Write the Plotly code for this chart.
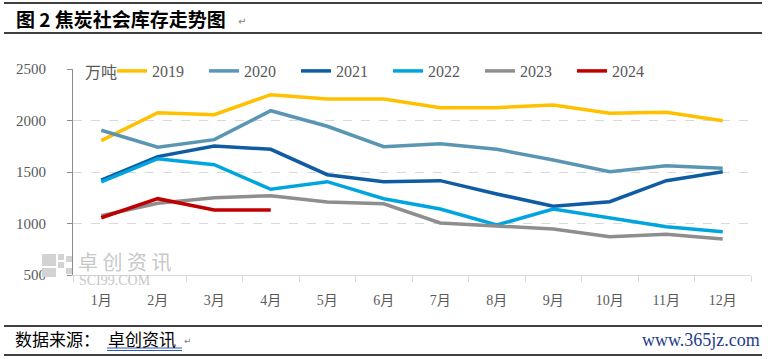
import plotly.graph_objects as go

months = ["1月", "2月", "3月", "4月", "5月", "6月", "7月", "8月", "9月", "10月", "11月", "12月"]
y2019 = [1804, 2076, 2056, 2251, 2209, 2209, 2125, 2125, 2150, 2070, 2080, 1998]
y2020 = [1905, 1740, 1814, 2095, 1944, 1746, 1775, 1720, 1617, 1503, 1561, 1536]
y2021 = [1422, 1649, 1752, 1720, 1474, 1406, 1416, 1287, 1167, 1212, 1416, 1503]
y2022 = [1403, 1629, 1571, 1332, 1406, 1241, 1141, 985, 1141, 1051, 969, 920]
y2023 = [1076, 1196, 1250, 1270, 1209, 1192, 1005, 979, 947, 872, 895, 850]
y2024 = [1056, 1241, 1131, 1131]

series = [
    ("2019", y2019, "#FFC000"),
    ("2020", y2020, "#5A96B4"),
    ("2021", y2021, "#0F5CA3"),
    ("2022", y2022, "#00A5DF"),
    ("2023", y2023, "#8E8E8E"),
    ("2024", y2024, "#C00000"),
]

W, H = 768, 359
L, R, T, B = 73, 17, 69, 84
pw, ph = W - L - R, H - T - B

def px(x):
    return (x - L) / pw

def py(y):
    return (H - B - y) / ph

fig = go.Figure()
for name, vals, col in series:
    fig.add_trace(go.Scatter(
        x=months[:len(vals)], y=vals, name=name, mode="lines",
        line=dict(color=col, width=3.5), hoverinfo="skip"))

cjk = "Liberation Serif, Noto Sans CJK SC"
fig.update_layout(
    width=W, height=H,
    margin=dict(l=L, r=R, t=T, b=B, pad=0, autoexpand=False),
    paper_bgcolor="white", plot_bgcolor="white",
    font=dict(family=cjk, color="#595959", size=14),
    showlegend=True,
    legend=dict(orientation="h", x=px(112), y=py(71), xanchor="left", yanchor="middle",
                font=dict(size=16, color="#595959", family=cjk),
                bgcolor="rgba(0,0,0,0)", entrywidth=47, entrywidthmode="pixels",
                itemwidth=30, tracegroupgap=0),
    xaxis=dict(type="category", range=[-0.5, 11.5], showgrid=False,
               showline=True, linecolor="#D9D9D9", linewidth=1,
               ticks="outside", tickson="boundaries", ticklen=6, tickcolor="#D9D9D9",
               ticklabelstandoff=12,
               tickfont=dict(size=14, color="#595959", family=cjk), fixedrange=True),
    yaxis=dict(range=[500, 2500], tickvals=[500, 1000, 1500, 2000, 2500],
               showgrid=True, gridcolor="#D9D9D9", griddash="dash", gridwidth=1,
               showline=True, linecolor="#8C8C8C", linewidth=1,
               ticks="outside", ticklen=5, tickcolor="#8C8C8C", zeroline=False,
               ticklabelstandoff=18,
               tickfont=dict(size=15, color="#595959", family=cjk), fixedrange=True),
)

shapes = []
for yy in (3, 33, 326, 355):
    shapes.append(dict(type="line", xref="paper", yref="paper",
                       x0=px(4), x1=px(762), y0=py(yy), y1=py(yy),
                       line=dict(color="black", width=1.5)))
# double underline under 卓创资讯
for yy in (348, 350.5):
    shapes.append(dict(type="line", xref="paper", yref="paper",
                       x0=px(107), x1=px(182), y0=py(yy), y1=py(yy),
                       line=dict(color="#2F5BB7", width=1)))
# watermark logo squares
wm = "#D3D3D3"
for (x0, y0, x1, y1) in [(42, 254, 56, 266), (58, 254, 64, 260), (66, 256, 72, 262),
                         (58, 262, 64, 268), (42, 268, 56, 277), (66, 268, 72, 274)]:
    shapes.append(dict(type="rect", xref="paper", yref="paper",
                       x0=px(x0), x1=px(x1), y0=py(y1), y1=py(y0),
                       fillcolor=wm, line=dict(width=0)))
fig.update_layout(shapes=shapes)

ann = [
    dict(text="<b>图 2 焦炭社会库存走势图</b>", x=px(14), y=py(18), xanchor="left", yanchor="middle",
         font=dict(size=19, color="black", family="Noto Sans CJK SC")),
    dict(text="↵", x=px(236), y=py(21), xanchor="left", yanchor="middle",
         font=dict(size=10, color="#808080", family="DejaVu Sans")),
    dict(text="万吨", x=px(83), y=py(71), xanchor="left", yanchor="middle",
         font=dict(size=16, color="#595959", family="Noto Sans CJK SC")),
    dict(text="卓 创 资 讯", x=px(76), y=py(261), xanchor="left", yanchor="middle",
         font=dict(size=20, color="#C8C8C8", family="Noto Sans CJK SC")),
    dict(text="SCI99.COM", x=px(77), y=py(280), xanchor="left", yanchor="middle",
         font=dict(size=14, color="#C8C8C8", family="Liberation Serif")),
    dict(text="数据来源：", x=px(13), y=py(338), xanchor="left", yanchor="middle",
         font=dict(size=17, color="black", family="Noto Sans CJK SC")),
    dict(text="卓创资讯", x=px(106), y=py(338), xanchor="left", yanchor="middle",
         font=dict(size=17, color="black", family="Noto Sans CJK SC")),
    dict(text="↵", x=px(182), y=py(341), xanchor="left", yanchor="middle",
         font=dict(size=9, color="#808080", family="DejaVu Sans")),
    dict(text="www.365jz.com", x=px(762), y=py(340), xanchor="right", yanchor="middle",
         font=dict(size=18, color="#1F3C88", family="Liberation Serif")),
]
for a in ann:
    a.update(xref="paper", yref="paper", showarrow=False)
fig.update_layout(annotations=ann)

fig.write_html("out.html", config={"displayModeBar": False},
               post_script="document.body.style.margin='0';document.body.style.overflow='hidden';")
